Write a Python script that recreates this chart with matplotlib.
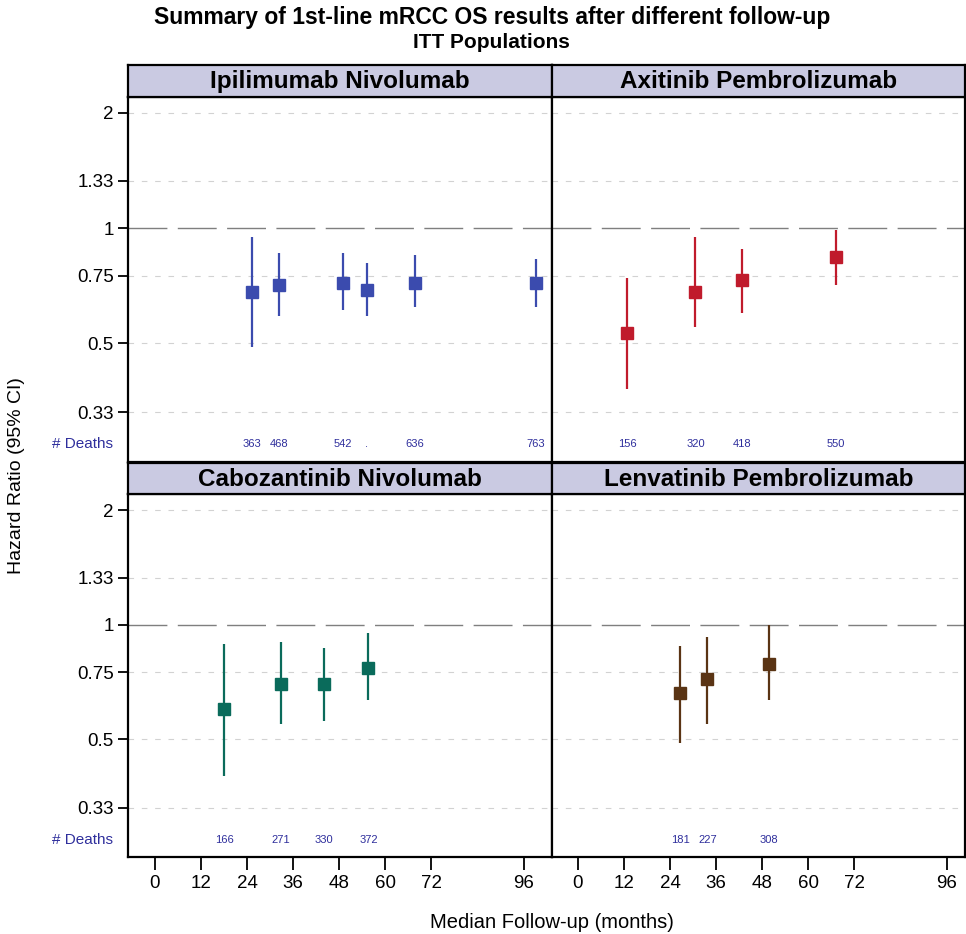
"""Summary of 1st-line mRCC OS results after different follow-up (ITT)."""

import matplotlib
matplotlib.use("Agg")

import matplotlib.pyplot as plt
import matplotlib.transforms as mtransforms
from matplotlib.ticker import NullLocator, FixedLocator

plt.rcParams["font.family"] = ["Liberation Sans", "DejaVu Sans"]

# ---- data ----
panel_titles = ["Ipilimumab Nivolumab", "Axitinib Pembrolizumab",
                "Cabozantinib Nivolumab", "Lenvatinib Pembrolizumab"]

ipi_fu = [25.2, 32.4, 49.0, 55.2, 67.7, 99.1]
ipi_hr = [0.68, 0.71, 0.72, 0.69, 0.72, 0.72]
ipi_lo = [0.49, 0.59, 0.61, 0.59, 0.62, 0.62]
ipi_hi = [0.95, 0.86, 0.86, 0.81, 0.85, 0.83]
ipi_deaths = ["363", "468", "542", ".", "636", "763"]

axi_fu = [12.8, 30.6, 42.8, 67.2]
axi_hr = [0.53, 0.68, 0.73, 0.84]
axi_lo = [0.38, 0.55, 0.60, 0.71]
axi_hi = [0.74, 0.95, 0.88, 0.99]
axi_deaths = ["156", "320", "418", "550"]

cab_fu = [18.1, 32.9, 44.0, 55.6]
cab_hr = [0.60, 0.70, 0.70, 0.77]
cab_lo = [0.40, 0.55, 0.56, 0.635]
cab_hi = [0.89, 0.90, 0.87, 0.95]
cab_deaths = ["166", "271", "330", "372"]

len_fu = [26.6, 33.7, 49.8]
len_hr = [0.66, 0.72, 0.79]
len_lo = [0.49, 0.55, 0.635]
len_hi = [0.88, 0.93, 1.00]
len_deaths = ["181", "227", "308"]

y_ticks = [0.33, 0.5, 0.75, 1, 1.33, 2]
y_tick_labels = ["0.33", "0.5", "0.75", "1", "1.33", "2"]
x_ticks = [0, 12, 24, 36, 48, 60, 72, 96]

COLORS = ["#3B4BAE", "#C01B2C", "#0A6B5B", "#5A3414"]
DEATH_COLOR = "#2E2E9C"
STRIP_COLOR = "#CACAE2"

series = [
    (ipi_fu, ipi_hr, ipi_lo, ipi_hi, ipi_deaths),
    (axi_fu, axi_hr, axi_lo, axi_hi, axi_deaths),
    (cab_fu, cab_hr, cab_lo, cab_hi, cab_deaths),
    (len_fu, len_hr, len_lo, len_hi, len_deaths),
]

fig = plt.figure(figsize=(9.66, 9.34), dpi=100)

# panel geometry in figure fractions
lefts = [0.1328, 0.5711]
widths = [0.4383, 0.4280]
plot_bottoms = [0.5057, 0.0824]
plot_heights = [0.3908, 0.3884]
strip_h = 0.0339
xlims = [(-6.9, 103.3), (-6.8, 100.8)]
YLIM = (0.245, 2.205)
DEATH_Y = 0.272
SPINE_W = 1.6

for i, (fu, hr, lo, hi, deaths) in enumerate(series):
    row, col = divmod(i, 2)
    ax = fig.add_axes([lefts[col], plot_bottoms[row], widths[col], plot_heights[row]])
    color = COLORS[i]

    ax.set_yscale("log")
    ax.set_ylim(*YLIM)
    ax.set_xlim(*xlims[col])

    # grid + reference line
    for t in y_ticks:
        if t == 1:
            continue
        ax.axhline(t, color="#D2D2D2", linewidth=0.8, dashes=(5, 7), zorder=1)
    ax.axhline(1, color="#7F7F7F", linewidth=1.0, dashes=(28, 7.5), zorder=1)

    # CI lines and point estimates
    ax.vlines(fu, lo, hi, color=color, linewidth=1.6, zorder=3)
    ax.plot(fu, hr, linestyle="none", marker="s", markersize=8.2,
            color=color, zorder=4)

    # number of deaths row
    for x, d in zip(fu, deaths):
        ax.text(x, DEATH_Y, d, ha="center", va="center", fontsize=8,
                color=DEATH_COLOR)

    ax.yaxis.set_major_locator(FixedLocator(y_ticks))
    ax.yaxis.set_minor_locator(NullLocator())
    ax.set_xticks(x_ticks)

    if col == 0:
        ax.set_yticklabels(y_tick_labels)
        ax.tick_params(axis="y", direction="out", length=7.5, width=1.3,
                       labelsize=13.5, pad=3)
        trans = mtransforms.blended_transform_factory(ax.transAxes, ax.transData)
        ax.text(-0.036, DEATH_Y, "# Deaths", transform=trans, ha="right",
                va="center", fontsize=11, color=DEATH_COLOR)
    else:
        ax.tick_params(axis="y", length=0, labelleft=False)

    if row == 1:
        ax.tick_params(axis="x", direction="out", length=9, width=1.3,
                       labelsize=13.5, pad=4)
    else:
        ax.tick_params(axis="x", length=0, labelbottom=False)

    for sp in ax.spines.values():
        sp.set_linewidth(SPINE_W)
        sp.set_color("black")

    # strip header
    sax = fig.add_axes([lefts[col], plot_bottoms[row] + plot_heights[row],
                        widths[col], strip_h])
    sax.set_facecolor(STRIP_COLOR)
    sax.set_xticks([])
    sax.set_yticks([])
    for sp in sax.spines.values():
        sp.set_linewidth(SPINE_W)
        sp.set_color("black")
    sax.text(0.5, 0.47, panel_titles[i], ha="center", va="center",
             fontsize=17.5, fontweight="bold", transform=sax.transAxes)

fig.text(0.5095, 1 - 17.5 / 934, "Summary of 1st-line mRCC OS results after different follow-up",
         ha="center", va="center", fontsize=16.5, fontweight="bold")
fig.text(0.5090, 1 - 42.5 / 934, "ITT Populations",
         ha="center", va="center", fontsize=15, fontweight="bold")

fig.text(0.571, 1 - 928 / 934, "Median Follow-up (months)", ha="center",
         va="baseline", fontsize=14.5)
fig.text(0.0166, 0.4904, "Hazard Ratio (95% CI)", rotation=90, ha="center",
         va="center", fontsize=14)

fig.savefig("out.png", dpi=100, facecolor="white")
plt.close(fig)
